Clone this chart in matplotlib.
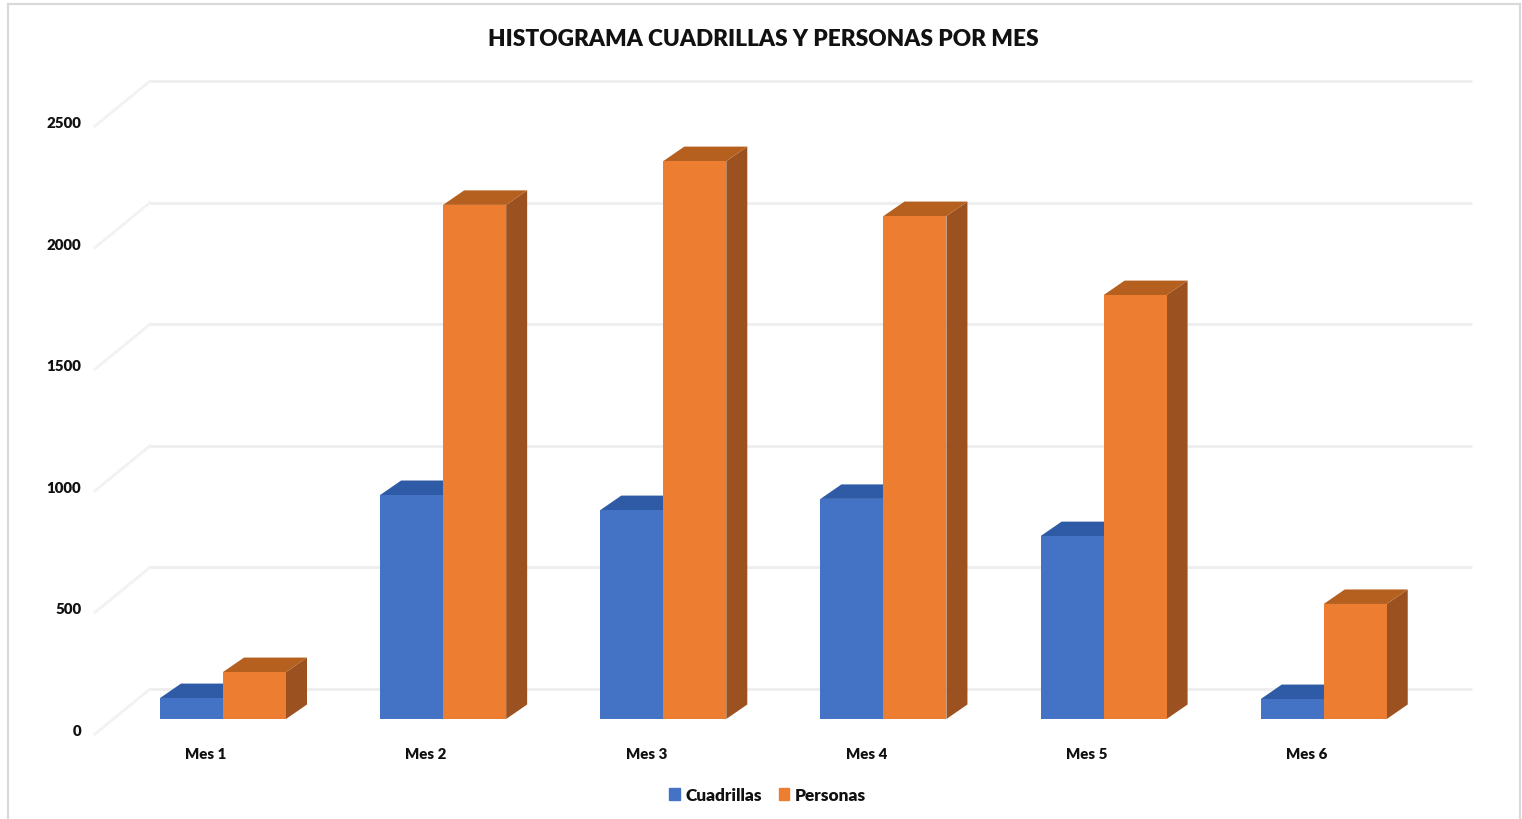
import matplotlib
matplotlib.use("Agg")
import matplotlib.pyplot as plt
from matplotlib.lines import Line2D
from matplotlib.patches import Patch
from matplotlib.transforms import ScaledTranslation

plt.rcParams['font.family'] = ['Lato', 'DejaVu Sans']

months = ['Mes 1', 'Mes 2', 'Mes 3', 'Mes 4', 'Mes 5', 'Mes 6']
cuadrillas = [86, 921, 859, 905, 752, 82]
personas = [193, 2114, 2294, 2068, 1743, 473]
y_ticks = [0, 500, 1000, 1500, 2000, 2500]

W, H = 1522, 820
PX_X = 220.15         # pixels per category
PX_Y = 0.2432         # pixels per value unit
X0_PX, Y0_PX = 223, 720
L_PX, R_PX, B_PX, T_PX = 95, 1472, 735, 81
BAR_W = 63 / PX_X
DX = 21 / PX_X        # bar depth
DY = 14.5 / PX_Y
WALL_X = (150 - X0_PX) / PX_X
WALL_Y = (Y0_PX - 690) / PX_Y
FRONT_X = (L_PX - X0_PX) / PX_X
FRONT_Y = (Y0_PX - B_PX) / PX_Y

fig = plt.figure(figsize=(W / 100, H / 100), dpi=100, facecolor='white')
ax = fig.add_axes([L_PX / W, 1 - B_PX / H, (R_PX - L_PX) / W, (B_PX - T_PX) / H])
ax.set_xlim((L_PX - X0_PX) / PX_X, (R_PX - X0_PX) / PX_X)
ax.set_ylim(FRONT_Y, (Y0_PX - T_PX) / PX_Y)
ax.patch.set_visible(False)
for s in ax.spines.values():
    s.set_visible(False)

GRID = '#EEEEEE'
for v in y_ticks:
    ax.plot([WALL_X, ax.get_xlim()[1]], [v + WALL_Y] * 2, color=GRID, lw=2.0,
            solid_capstyle='butt', clip_on=False, zorder=1)
    ax.plot([FRONT_X, WALL_X], [v + FRONT_Y, v + WALL_Y], color='#F2F2F2', lw=2.0,
            clip_on=False, zorder=1)


def bar3d(x_left, value, front, top, side, z):
    x_right = x_left + BAR_W
    ax.fill([x_right, x_right + DX, x_right + DX, x_right],
            [0, DY, value + DY, value], color=side, lw=0, zorder=z)
    ax.fill([x_left, x_left + DX, x_right + DX, x_right],
            [value, value + DY, value + DY, value], color=top, lw=0, zorder=z)
    ax.bar(x_left, value, width=BAR_W, align='edge', color=front, lw=0, zorder=z)


for i, (c, p) in enumerate(zip(cuadrillas, personas)):
    bar3d(i - BAR_W, c, '#4472C4', '#2F5AA5', '#2B5091', 3 + i * 0.01)
    bar3d(i, p, '#ED7D31', '#B5601F', '#9C5220', 4 + i * 0.01)

ax.set_xticks(range(len(months)), months, fontsize=10.8, fontweight='heavy', color='#111111')
ax.set_yticks(y_ticks, [str(v) for v in y_ticks], fontsize=10.8, fontweight='heavy', color='#111111')
ax.tick_params(axis='x', length=0, pad=9.4)
ax.tick_params(axis='y', length=0, pad=10)
ax.grid(False)

off_x = ScaledTranslation(-17 / 100, 0, fig.dpi_scale_trans)
off_y = ScaledTranslation(0, -10.5 / 100, fig.dpi_scale_trans)
for lbl in ax.get_xticklabels():
    lbl.set_transform(lbl.get_transform() + off_x)
for lbl in ax.get_yticklabels():
    lbl.set_transform(lbl.get_transform() + off_y)

fig.text(763.5 / W, 1 - 39.5 / H, 'HISTOGRAMA CUADRILLAS Y PERSONAS POR MES',
         ha='center', va='center', fontsize=16.25, fontweight='heavy', color='#111111')

handles = [Patch(color='#4472C4', label='Cuadrillas'), Patch(color='#ED7D31', label='Personas')]
fig.legend(handles=handles, loc='center', bbox_to_anchor=(767.5 / W, 1 - 796 / H), ncol=2,
           frameon=False, prop={'weight': 'heavy', 'size': 12.4},
           handlelength=0.62, handleheight=0.62, handletextpad=0.3, columnspacing=1.0,
           labelcolor='#111111')

FRAME = '#D9D9D9'
for xs, ys in [((8, 8), (5, H)), ((8, 1520), (5, 5)), ((1520, 1520), (5, H))]:
    fig.add_artist(Line2D([x / W for x in xs], [1 - y / H for y in ys], color=FRAME, lw=1.5))

fig.savefig('out.png', dpi=100, facecolor='white')
